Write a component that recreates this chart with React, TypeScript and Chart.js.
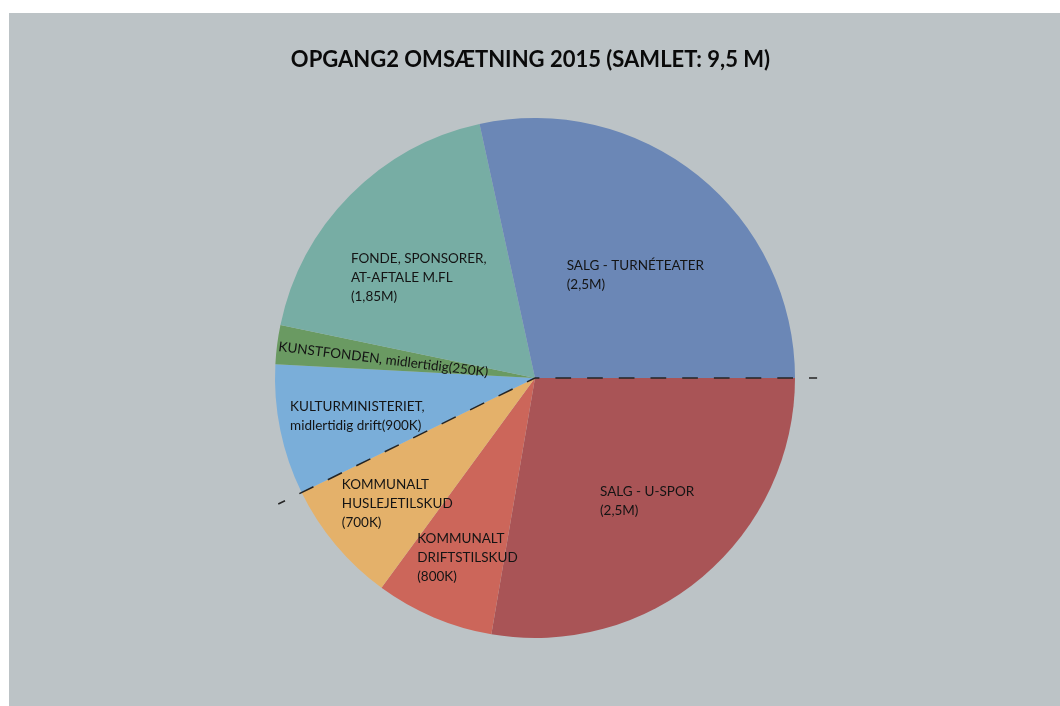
import React, { useEffect, useRef } from "react";
import { Chart, registerables } from "chart.js";

Chart.register(...registerables);

const TITLE = "OPGANG2 OMSÆTNING 2015 (SAMLET: 9,5 M)";

const categories = [
  "SALG - U-SPOR",
  "KOMMUNALT DRIFTSTILSKUD",
  "KOMMUNALT HUSLEJETILSKUD",
  "KULTURMINISTERIET, midlertidig drift",
  "KUNSTFONDEN, midlertidig",
  "FONDE, SPONSORER, AT-AFTALE M.FL",
  "SALG - TURNÉTEATER",
];

// slice sizes as drawn in the picture (mio. kr.)
const sliceValues = [2.63, 0.7, 0.73, 0.77, 0.23, 1.74, 2.7];

// label text inside each slice
const labelLines = [
  ["SALG - U-SPOR", "(2,5M)"],
  ["KOMMUNALT", "DRIFTSTILSKUD", "(800K)"],
  ["KOMMUNALT", "HUSLEJETILSKUD", "(700K)"],
  ["KULTURMINISTERIET,", "midlertidig drift(900K)"],
  ["KUNSTFONDEN, midlertidig(250K)"],
  ["FONDE, SPONSORER,", "AT-AFTALE M.FL", "(1,85M)"],
  ["SALG - TURNÉTEATER", "(2,5M)"],
];

const sliceColors = ["#a95456", "#cc665a", "#e4b16a", "#7aaed9", "#6a9a62", "#77ada4", "#6b87b6"];

// label placement relative to pie centre, in units of radius (x, first baseline y, rotation deg)
const labelPlacement = [
  [0.25, 0.454, 0],
  [-0.453, 0.633, 0],
  [-0.743, 0.428, 0],
  [-0.942, 0.126, 0],
  [-0.988, -0.104, 7],
  [-0.708, -0.441, 0],
  [0.122, -0.415, 0],
];

const FONT = "'Lato', 'Noto Sans', sans-serif";

const overlayPlugin = {
  id: "overlay",
  afterDatasetsDraw(chart: any) {
    const ctx = chart.ctx;
    const meta = chart.getDatasetMeta(0);
    const arcs = meta.data as any[];
    if (!arcs.length) return;
    const cx = arcs[0].x;
    const cy = arcs[0].y;
    const R = arcs[0].outerRadius;

    // dashed separator lines
    ctx.save();
    ctx.strokeStyle = "#252525";
    ctx.lineWidth = 1.5;
    ctx.setLineDash([15.7, 16]);
    const dashLine = (angle: number, len: number, offset: number) => {
      ctx.lineDashOffset = offset;
      ctx.beginPath();
      ctx.moveTo(cx, cy);
      ctx.lineTo(cx + Math.cos(angle) * len, cy + Math.sin(angle) * len);
      ctx.stroke();
    };
    dashLine(arcs[0].startAngle, R * 1.085, 11.3);
    dashLine(arcs[3].startAngle, R * 1.1, 6.8);
    ctx.restore();

    // labels
    ctx.save();
    ctx.fillStyle = "#141414";
    ctx.font = `13.5px ${FONT}`;
    ctx.textAlign = "left";
    ctx.textBaseline = "alphabetic";
    labelLines.forEach((lines, i) => {
      const [fx, fy, rot] = labelPlacement[i];
      ctx.save();
      ctx.translate(cx + fx * R, cy + fy * R);
      ctx.rotate((rot * Math.PI) / 180);
      lines.forEach((ln, j) => ctx.fillText(ln, 0, j * 19));
      ctx.restore();
    });
    ctx.restore();

    // title
    ctx.save();
    ctx.fillStyle = "#0a0a0a";
    ctx.font = `bold 22px ${FONT}`;
    ctx.textAlign = "center";
    ctx.textBaseline = "alphabetic";
    ctx.fillText(TITLE, cx - 4.5, 54);
    ctx.restore();
  },
};

export default function App() {
  const ref = useRef<HTMLCanvasElement | null>(null);
  useEffect(() => {
    if (!ref.current) return;
    const chart = new Chart(ref.current, {
      type: "pie",
      data: {
        labels: categories,
        datasets: [
          {
            data: sliceValues,
            backgroundColor: sliceColors,
            borderWidth: 0,
            hoverBorderWidth: 0,
            hoverOffset: 0,
          },
        ],
      },
      options: {
        responsive: false,
        animation: false,
        rotation: 90,
        events: [],
        layout: { padding: { left: 266, right: 265, top: 105, bottom: 68 } },
        plugins: {
          legend: { display: false },
          tooltip: { enabled: false },
          title: { display: false },
        },
      },
      plugins: [overlayPlugin],
    });
    return () => chart.destroy();
  }, []);
  return (
    <div style={{ position: "absolute", left: 9, top: 13, width: 1051, height: 693, background: "#bcc3c6" }}>
      <canvas ref={ref} width={1051} height={693} style={{ display: "block" }} />
    </div>
  );
}
